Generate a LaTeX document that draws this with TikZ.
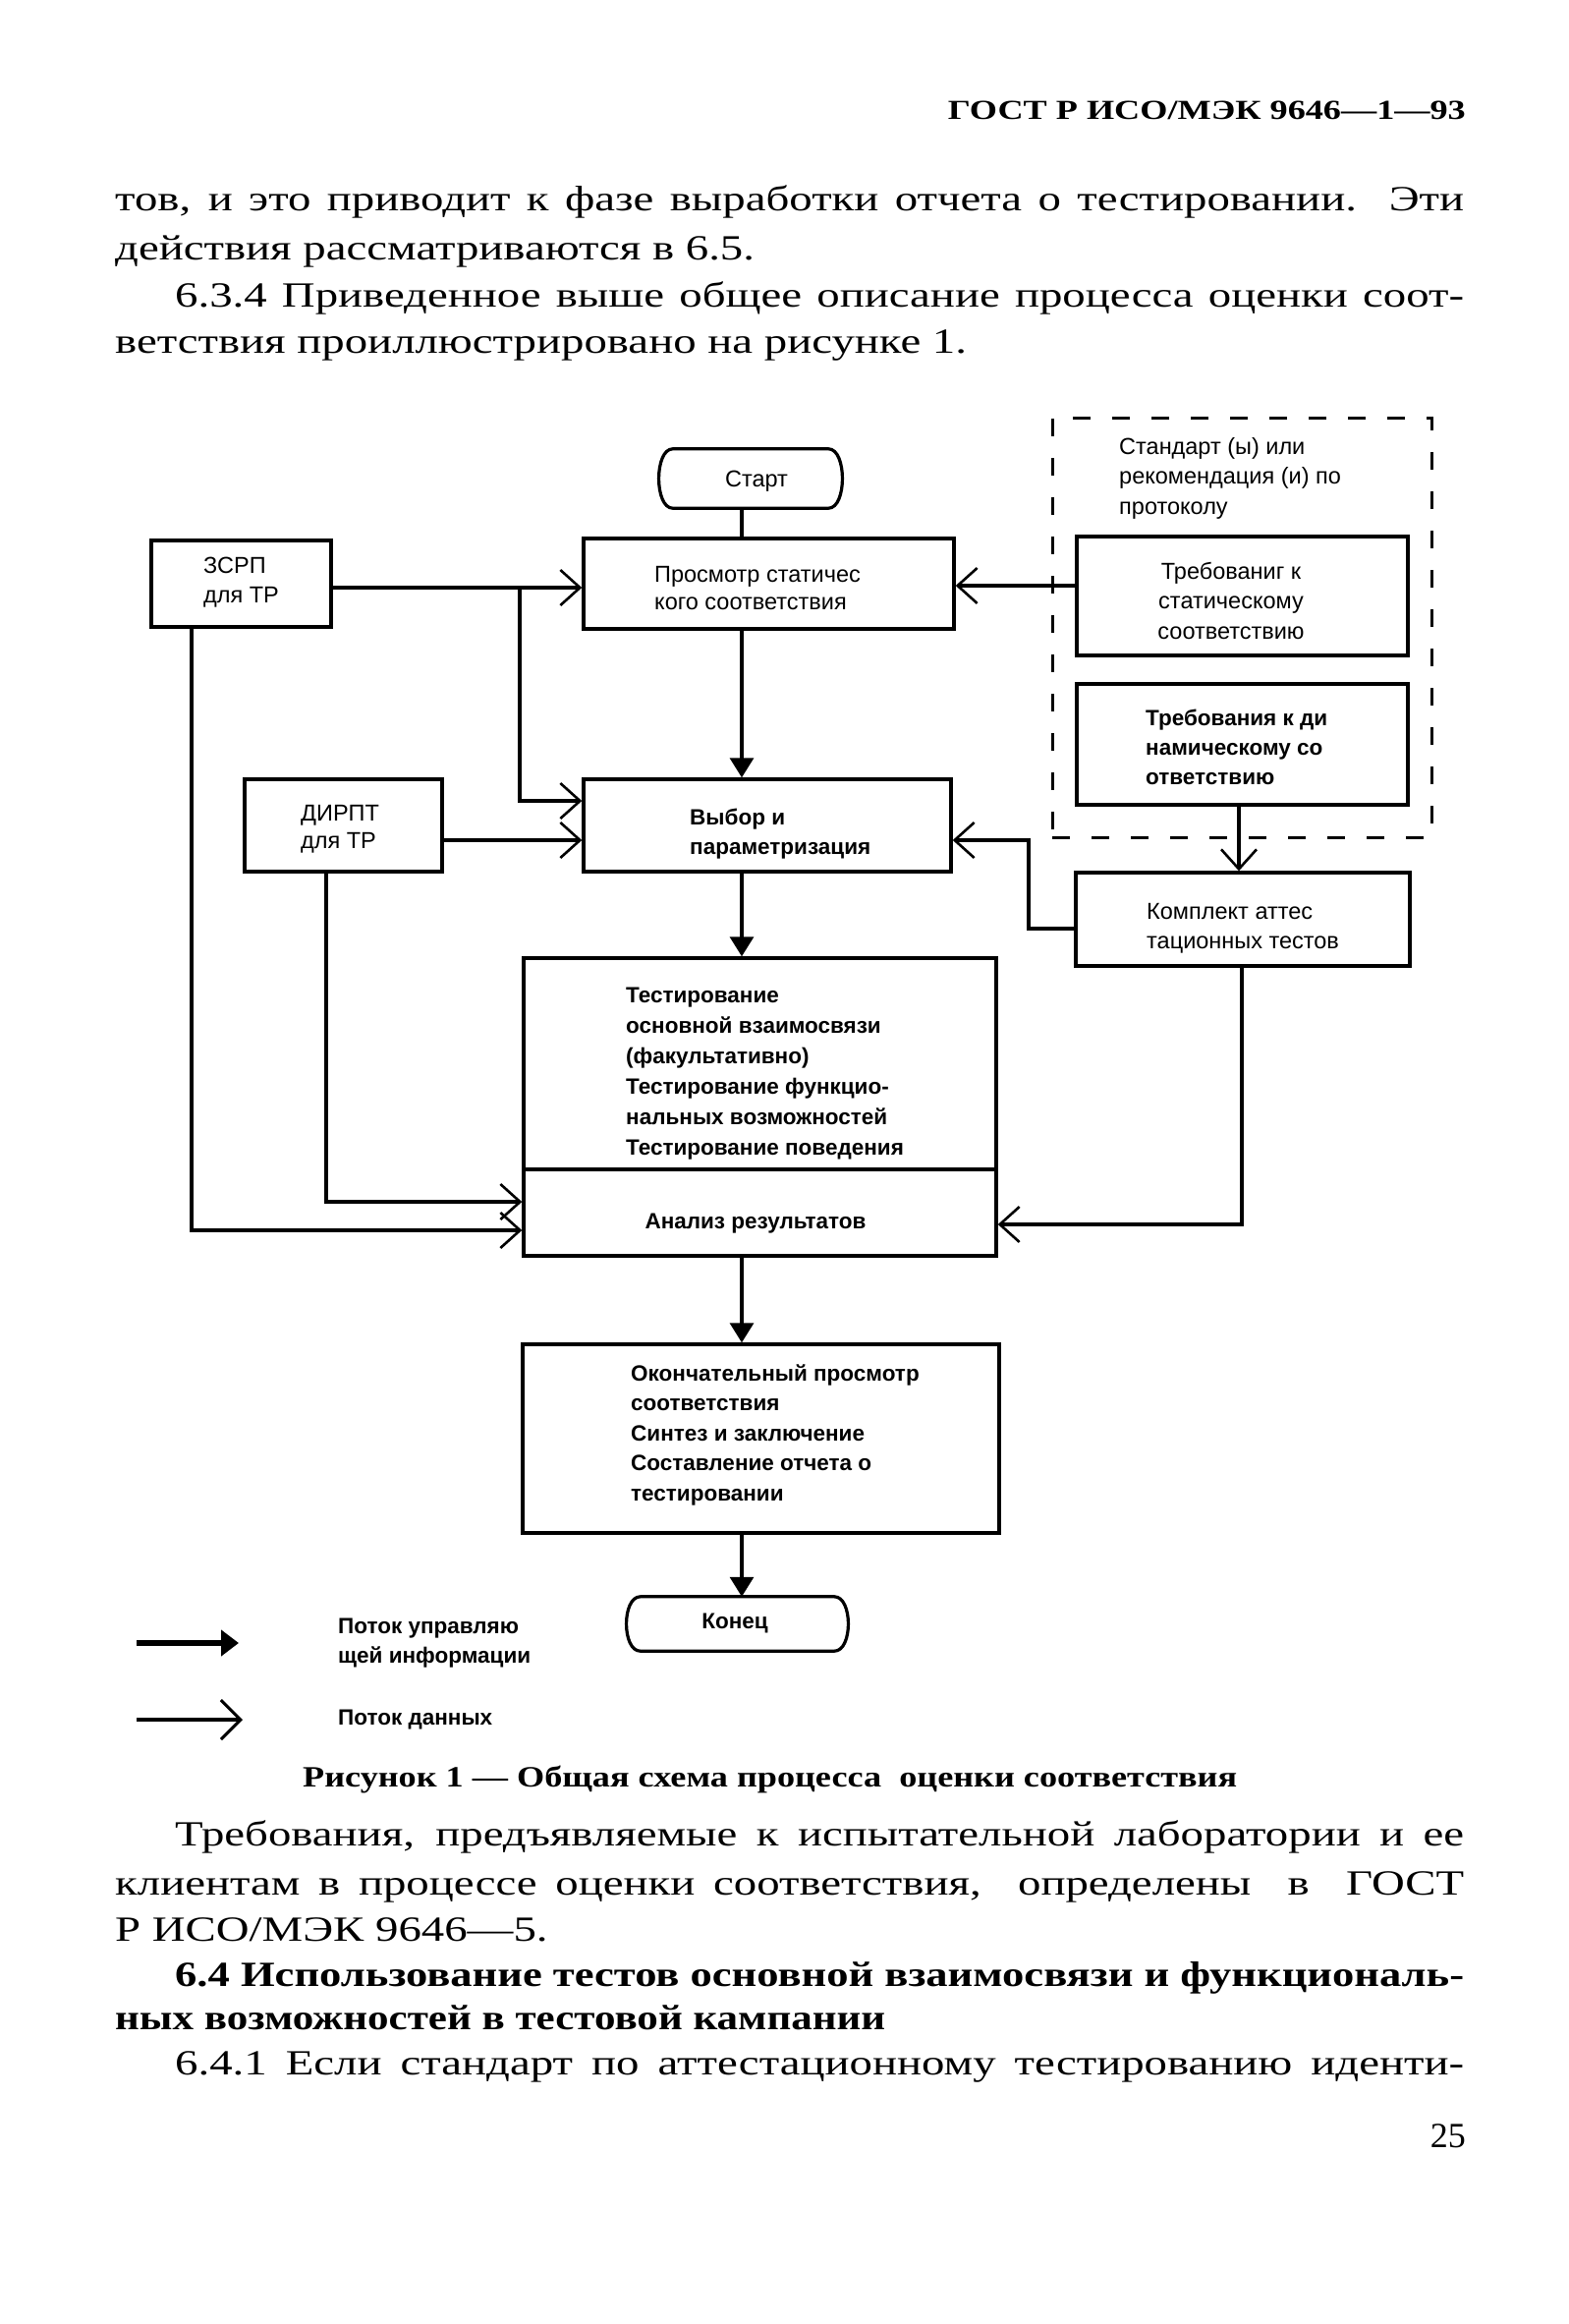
\documentclass[tikz,border=0pt]{standalone}
\usepackage{fontspec}
\setmainfont{Liberation Serif}
\newfontfamily\dsans{Liberation Sans}
\usetikzlibrary{arrows.meta,calc}
\newcommand\fitw[2]{\resizebox{#1pt}{\height}{#2}}
\newcommand\bodyf{\fontsize{36}{42}\selectfont}
\newcommand\jl[2]{\scalebox{1.3}[1]{\makebox[\dimexpr #1pt*10/13\relax][s]{\bodyf #2}}}
\newcommand\nl[1]{\scalebox{1.3}[1]{\bodyf #1}}
\begin{document}
\begin{tikzpicture}[x=1pt,y=-1pt,
  body/.style={inner sep=0pt, anchor=base west},
  tx/.style={inner sep=0pt, font=\dsans\fontsize{23.5}{27}\selectfont},
  txb/.style={inner sep=0pt, font=\dsans\bfseries\fontsize{22.5}{26}\selectfont},
  ln/.style={line width=3.2pt},
  box/.style={draw, line width=3.4pt, inner sep=0pt, rectangle},
  term/.style={inner sep=0pt, rectangle},
  dbox/.style={draw, line width=3pt, dash pattern=on 18pt off 22pt, inner sep=0pt, rectangle},
  data/.style={ln, -{Straight Barb[length=20pt,width=36pt,line width=2.6pt]}},
  ctrl/.style={ln, -{Triangle[length=20pt,width=24pt]}}
]
\useasboundingbox (0,0) rectangle (1596,2365);
\fill[white] (0,0) rectangle (1596,2365);

% ---------- page text ----------
\node[body, anchor=base east] (hdr) at (1492,122) {\fitw{527}{\bfseries\fontsize{28}{30}\selectfont ГОСТ Р ИСО/МЭК 9646—1—93}};
\node[body] (p1) at (117,215) {\jl{1373}{тов, и это приводит к фазе выработки отчета о тестировании.\ \ Эти}};
\node[body] (p2) at (117,265) {\nl{действия рассматриваются в 6.5.}};
\node[body] (p3) at (178,312) {\jl{1312}{6.3.4 Приведенное выше общее описание процесса оценки соот-}};
\node[body] (p4) at (117,359) {\nl{ветствия проиллюстрировано на рисунке 1.}};

\node[body] (cap) at (308,1818) {\fitw{951}{\bfseries\fontsize{30}{34}\selectfont Рисунок 1 — Общая схема процесса\ \ оценки соответствия}};
\node[body] (q1) at (178,1878) {\jl{1312}{Требования, предъявляемые к испытательной лаборатории и ее}};
\node[body] (q2) at (117,1928) {\jl{1373}{клиентам в процессе оценки соответствия,\ \ определены\ \ в\ \ ГОСТ}};
\node[body] (q3) at (117,1975) {\nl{Р ИСО/МЭК 9646—5.}};
\node[body] (q4) at (178,2021) {\fitw{1312}{\bfseries\bodyf 6.4 Использование тестов основной взаимосвязи и функциональ-}};
\node[body] (q5) at (117,2065) {\fitw{784}{\bfseries\bodyf ных возможностей в тестовой кампании}};
\node[body] (q6) at (178,2111) {\jl{1312}{6.4.1 Если стандарт по аттестационному тестированию иденти-}};
\node[body, anchor=base east] (pg) at (1492,2185) {\bodyf 25};

% ---------- boxes ----------
\node[term, minimum width=186pt, minimum height=60pt] (start) at (764,487) {};
\node[box, minimum width=183pt, minimum height=88pt] (zsrp) at (245.5,594) {};
\node[box, minimum width=377pt, minimum height=92pt] (view) at (782.5,594) {};
\node[box, minimum width=201pt, minimum height=94pt] (dirpt) at (349.5,840) {};
\node[box, minimum width=374pt, minimum height=94pt] (choose) at (781,840) {};
\node[dbox, minimum width=386pt, minimum height=427pt] (std) at (1264,638.5) {};
\node[box, minimum width=337pt, minimum height=121pt] (sreq) at (1264.5,606.5) {};
\node[box, minimum width=337pt, minimum height=123pt] (dreq) at (1264.5,757.5) {};
\node[box, minimum width=340pt, minimum height=95pt] (kit) at (1265,935.5) {};
\node[box, minimum width=481pt, minimum height=215pt] (test) at (773.5,1082.5) {};
\node[box, minimum width=481pt, minimum height=88pt] (anal) at (773.5,1234) {};
\node[box, minimum width=485pt, minimum height=192pt] (final) at (774.5,1464) {};
\node[term, minimum width=225pt, minimum height=55pt] (end) at (750.5,1652.5) {};

% terminals
\draw[ln] ([xshift=14pt]start.north west) -- ([xshift=-14pt]start.north east)
  .. controls ([xshift=5pt]start.north east) and ([xshift=5pt]start.south east) .. ([xshift=-14pt]start.south east)
  -- ([xshift=14pt]start.south west)
  .. controls ([xshift=-5pt]start.south west) and ([xshift=-5pt]start.north west) .. cycle;
\draw[ln] ([xshift=14pt]end.north west) -- ([xshift=-14pt]end.north east)
  .. controls ([xshift=5pt]end.north east) and ([xshift=5pt]end.south east) .. ([xshift=-14pt]end.south east)
  -- ([xshift=14pt]end.south west)
  .. controls ([xshift=-5pt]end.south west) and ([xshift=-5pt]end.north west) .. cycle;

% ---------- box texts ----------
\node[tx, anchor=base] (tstart) at (770,495) {Старт};
\node[tx, anchor=base west] (tz1) at (207,583) {ЗСРП};
\node[tx, anchor=base west] (tz2) at (207,613) {для ТР};
\node[tx, anchor=base west] (td1) at (306,835) {ДИРПТ};
\node[tx, anchor=base west] (td2) at (306,863) {для ТР};
\node[tx, anchor=base west] (tv1) at (666,592) {Просмотр статичес};
\node[tx, anchor=base west] (tv2) at (666,620) {кого соответствия};
\node[txb, anchor=base west] (tc1) at (702,839) {Выбор и};
\node[txb, anchor=base west] (tc2) at (702,869) {параметризация};
\foreach \s [count=\i from 0] in {Стандарт (ы) или,рекомендация (и) по,протоколу}
  \node[tx, anchor=base west] (ts\i) at (1139,462+30.5*\i) {\s};
\foreach \s [count=\i from 0] in {Требованиг к,статическому,соответствию}
  \node[tx, anchor=base] (tr\i) at (1253,589+30.5*\i) {\s};
\foreach \s [count=\i from 0] in {Требования к ди,намическому со,ответствию}
  \node[txb, anchor=base west] (tq\i) at (1166,738+30*\i) {\s};
\node[tx, anchor=base west] (tk1) at (1167,935) {Комплект аттес};
\node[tx, anchor=base west] (tk2) at (1167,965) {тационных тестов};
\foreach \s [count=\i from 0] in {Тестирование,основной взаимосвязи,{(факультативно)},Тестирование функцио-,нальных возможностей,Тестирование поведения}
  \node[txb, anchor=base west] (tt\i) at (637,1020+31*\i) {\s};
\node[txb, anchor=base] (ta) at (769,1250) {Анализ результатов};
\foreach \s [count=\i from 0] in {Окончательный просмотр,соответствия,Синтез и заключение,Составление отчета о,тестировании}
  \node[txb, anchor=base west] (tf\i) at (642,1405+30.5*\i) {\s};
\node[txb, anchor=base] (tend) at (748,1657) {Конец};

% ---------- connectors ----------
\coordinate (ax) at (755,0);
\draw[ln] (start.south -| ax) -- (view.north -| ax);
\draw[ctrl] (view.south -| ax) -- (choose.north -| ax);
\draw[ctrl] (choose.south -| ax) -- (test.north -| ax);
\draw[ctrl] (anal.south -| ax) -- (final.north -| ax);
\draw[ctrl] (final.south -| ax) -- (end.north -| ax);

\coordinate (zy) at (0,598);
\coordinate (br) at (529,598);
\coordinate (c1) at (529,815);
\draw[data] (zsrp.east |- zy) -- (view.west |- zy);
\draw[data] (br) -- (c1) -- (choose.west |- c1);
\coordinate (dy) at (0,855);
\draw[data] (dirpt.east |- dy) -- (choose.west |- dy);
\coordinate (sy) at (0,596);
\draw[data] (sreq.west |- sy) -- (view.east |- sy);
\coordinate (kx) at (1261,0);
\draw[data] (dreq.south -| kx) -- (kit.north -| kx);
\coordinate (k1) at (1047,945);
\coordinate (k2) at (1047,855);
\draw[data] (kit.west |- k1) -- (k1) -- (k2) -- (choose.east |- k2);
\coordinate (d1) at (332,1223);
\draw[data] (dirpt.south -| d1) -- (d1) -- (anal.west |- d1);
\coordinate (z1) at (195,1252);
\draw[data] (zsrp.south -| z1) -- (z1) -- (anal.west |- z1);
\coordinate (k3) at (1264,1246);
\draw[data] (kit.south -| k3) -- (k3) -- (anal.east |- k3);

% ---------- legend ----------
\coordinate (la1) at (139,1672);
\coordinate (la2) at (243,1672);
\draw[line width=6pt, -{Triangle[length=18pt,width=26pt]}] (la1) -- (la2);
\coordinate (lb1) at (139,1750);
\coordinate (lb2) at (247,1750);
\draw[line width=3.6pt, -{Straight Barb[length=20pt,width=40pt,line width=3pt]}] (lb1) -- (lb2);
\node[txb, anchor=base west] (lg1) at (344,1662) {Поток управляю};
\node[txb, anchor=base west] (lg2) at (344,1692) {щей информации};
\node[txb, anchor=base west] (lg3) at (344,1755) {Поток данных};
\end{tikzpicture}
\end{document}
